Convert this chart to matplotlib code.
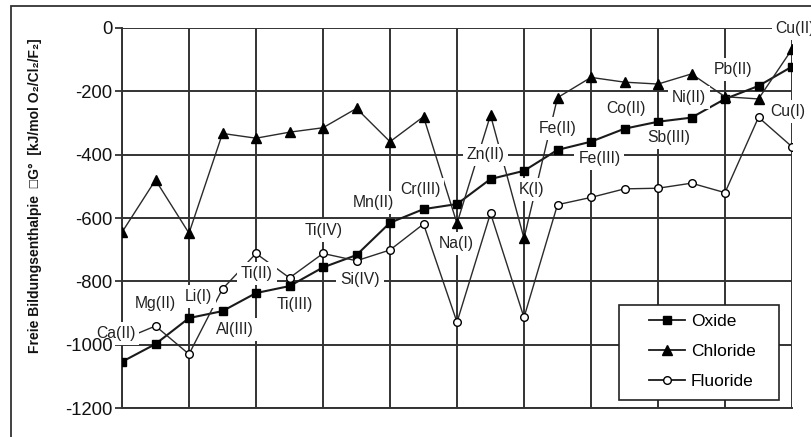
import matplotlib
matplotlib.use("Agg")
import matplotlib.pyplot as plt
from matplotlib.patches import Rectangle
from matplotlib.lines import Line2D

plt.rcParams['font.family'] = ['Liberation Sans', 'DejaVu Sans']

# Metal ions (oxidation state) along the x axis
categories = ["Ca(II)", "Mg(II)", "Li(I)", "Al(III)", "Ti(II)", "Ti(III)", "Ti(IV)",
              "Si(IV)", "Mn(II)", "Cr(III)", "Na(I)", "Zn(II)", "K(I)", "Fe(II)",
              "Fe(III)", "Co(II)", "Sb(III)", "Ni(II)", "Pb(II)", "Cu(I)", "Cu(II)"]

# Free enthalpy of formation per mol O2 / Cl2 / F2 (kJ)
oxide = [-1054, -998, -916, -894, -837, -815, -756, -717, -615, -572, -556,
         -477, -451, -385, -359, -318, -296, -283, -224, -183, -122]
chloride = [-645, -480, -648, -333, -348, -329, -315, -254, -359, -280, -617,
            -275, -664, -220, -156, -171, -177, -145, -217, -224, -67]
fluoride = [-985, -941, -1030, -824, -712, -789, -712, -735, -701, -619, -929,
            -585, -914, -558, -535, -508, -506, -490, -520, -282, -375]

y_ticks = [0, -200, -400, -600, -800, -1000, -1200]

# Label placement (x offset from the category index, y in kJ)
label_dx = [-0.19, 0.0, 0.27, 0.37, 0.03, 0.16, 0.01, 0.10, -0.49, -0.10, -0.03,
            -0.15, 0.23, 0.0, 0.25, 0.04, 0.32, -0.08, 0.25, 0.88, 0.10]
label_y = [-966, -869, -849, -951, -775, -872, -640, -793, -550, -509, -680,
           -401, -509, -317, -411, -254, -345, -219, -130, -264, -1]

W, H = 811, 437
rect = [122 / W, 1 - 408 / H, 670 / W, 380 / H]
fig = plt.figure(figsize=(W / 100, H / 100), dpi=100)
ax = fig.add_axes(rect)

x = list(range(len(categories)))
ink = '#1a1a1a'
grid_c = '#333333'

ax.plot(x, oxide, color=ink, lw=1.5, marker='s', ms=5.5, mfc='black',
        mec='black', zorder=3, label='Oxide')
ax.plot(x, chloride, color='#2a2a2a', lw=1.0, marker='^', ms=6.5, mfc='black',
        mec='black', zorder=3, label='Chloride')
ax.plot(x, fluoride, color='#2a2a2a', lw=1.0, marker='o', ms=5.5, mfc='white',
        mec='black', mew=1.0, zorder=3, label='Fluoride')

ax.set_xlim(0, len(categories) - 1)
ax.set_ylim(-1200, 0)
ax.set_xticks(range(0, len(categories), 2))
ax.set_xticklabels([])
ax.tick_params(axis='x', length=0)
ax.set_yticks(y_ticks)
ax.tick_params(axis='y', direction='out', length=5, width=1.3, color=grid_c,
               labelleft=False)

ax.set_axisbelow(True)
ax.grid(True, color=grid_c, lw=1.4)
for side in ['top', 'right']:
    ax.spines[side].set_visible(False)
for side in ['left', 'bottom']:
    ax.spines[side].set_color(grid_c)
    ax.spines[side].set_linewidth(1.4)
    ax.spines[side].set_zorder(1)

# Data labels with white boxes
for i, name in enumerate(categories):
    ax.text(i + label_dx[i], label_y[i], name, fontsize=11.3, color='#222222',
            ha='center', va='center', zorder=6, clip_on=False,
            bbox=dict(boxstyle='square,pad=0.25', fc='white', ec='none'))

# Legend box
ax.add_patch(Rectangle(((619 - 122) / 670, (408 - 400) / 380), 160 / 670, 95 / 380,
                       transform=ax.transAxes, fc='white', ec='#222222', lw=1.2,
                       zorder=7))
handles = [
    Line2D([], [], color=ink, lw=1.3, marker='s', ms=5.5, mfc='black', mec='black'),
    Line2D([], [], color=ink, lw=1.3, marker='^', ms=6.5, mfc='black', mec='black'),
    Line2D([], [], color=ink, lw=1.3, marker='o', ms=5.5, mfc='white', mec='black'),
]
leg = ax.legend(handles, ['Oxide', 'Chloride', 'Fluoride'], loc='upper left',
                bbox_to_anchor=((649 - 122) / 670, (408 - 314) / 380),
                frameon=False, fontsize=12.5, handlelength=2.1, handletextpad=0.3,
                labelspacing=0.86, borderpad=0, borderaxespad=0)
leg.set_zorder(8)

# Value labels of the y axis drawn on top of the data labels
lab = fig.add_axes(rect, zorder=5)
lab.set_facecolor('none')
lab.set_xlim(ax.get_xlim())
lab.set_ylim(ax.get_ylim())
lab.set_xticks([])
lab.set_yticks(y_ticks)
lab.set_yticklabels([str(v) for v in y_ticks], fontsize=13.3, color='#111111')
lab.tick_params(axis='y', direction='out', length=5, color='none', pad=2)
for s in lab.spines.values():
    s.set_visible(False)

# Axis title
fig.text(35 / W, 1 - 196 / H,
         "Freie Bildungsenthalpie  \u25a1G\u00b0  [kJ/mol O\u2082/Cl\u2082/F\u2082]",
         rotation=90, ha='center', va='center', fontsize=10, fontweight='bold',
         color='#111111')

# Outer frame
fig.patches.append(Rectangle((11 / W, -0.1), 1.2, 1 - 6 / H + 0.1,
                             transform=fig.transFigure, fill=False,
                             ec='#333333', lw=1.3))

fig.savefig('out.png', dpi=100)
